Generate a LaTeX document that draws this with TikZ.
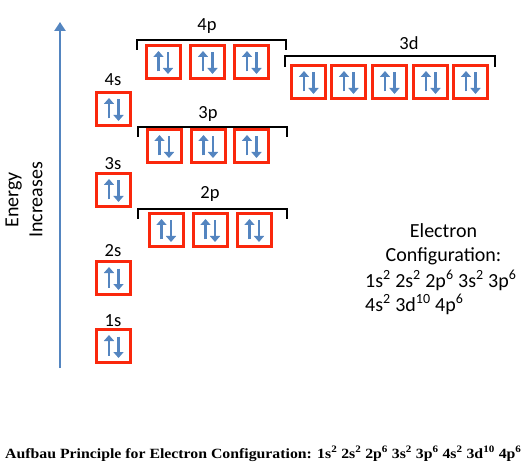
\documentclass[tikz,border=0pt]{standalone}
\usepackage{fontspec}
\setmainfont{Carlito}
\newfontfamily\capfont{Liberation Serif}[FakeStretch=1.12]
\usetikzlibrary{arrows.meta}
\definecolor{boxred}{RGB}{250,40,12}
\definecolor{spinblue}{RGB}{84,133,192}
\tikzset{
  orb/.style={draw=boxred, line width=3bp, minimum width=34bp, minimum height=33bp, inner sep=0pt},
  spin/.style={draw=spinblue, line width=2.8bp, -{Triangle[length=6bp,width=10bp]}},
  brk/.style={draw=black, line width=1.5bp},
  lbl/.style={anchor=base, font=\fontsize{18.5bp}{22bp}\selectfont, inner sep=0pt},
  cfg/.style={anchor=base, font=\fontsize{20bp}{24bp}\selectfont, inner sep=0pt},
  axis/.style={draw=spinblue, line width=2.5bp, -{Triangle[length=9bp,width=11bp]}}
}
\newcommand\orbital[3]{%
  \node[orb] (#1) at (#2,#3) {};
  \draw[spin] ([xshift=-4.5bp,yshift=-9.5bp]#1.center) -- ([xshift=-4.5bp,yshift=11bp]#1.center);
  \draw[spin] ([xshift=5bp,yshift=9.5bp]#1.center) -- ([xshift=5bp,yshift=-12bp]#1.center);
}
\newcommand\sps[1]{\textsuperscript{#1}}
\begin{document}
\begin{tikzpicture}[x=1bp,y=-1bp]
\useasboundingbox[fill=white] (0,0) rectangle (527,469);
% energy axis
\coordinate (axbot) at (60,368);
\coordinate (axtop) at (60,22);
\draw[axis] (axbot) -- (axtop);
\node[rotate=90, align=center, font=\fontsize{20bp}{24bp}\selectfont, inner sep=0pt] (energy) at (24,200) {Energy\\Increases};
% s orbitals
\orbital{o1s}{113.5}{346}
\node[lbl] (l1s) at (113,326) {1s};
\orbital{o2s}{113.5}{278}
\node[lbl] (l2s) at (113,257) {2s};
\orbital{o3s}{113.5}{190}
\node[lbl] (l3s) at (113,170) {3s};
\orbital{o4s}{113.5}{109}
\node[lbl] (l4s) at (113,86) {4s};
% 2p
\orbital{o2pa}{166}{230}
\orbital{o2pb}{210}{230}
\orbital{o2pc}{254}{230}
\draw[brk] (138,219) -- (138,209) -- (287,209) -- (287,219);
\node[lbl] (l2p) at (210,199) {2p};
% 3p
\orbital{o3pa}{164}{146}
\orbital{o3pb}{208}{146}
\orbital{o3pc}{251.5}{146}
\draw[brk] (138,137) -- (138,127) -- (287,127) -- (287,137);
\node[lbl] (l3p) at (208,119) {3p};
% 4p
\orbital{o4pa}{163}{62}
\orbital{o4pb}{207.5}{62}
\orbital{o4pc}{251.5}{62}
\draw[brk] (137,50) -- (137,40) -- (286,40) -- (286,50);
\node[lbl] (l4p) at (207,31) {4p};
% 3d
\orbital{o3da}{308.5}{82}
\orbital{o3db}{348.5}{82}
\orbital{o3dc}{389.5}{82}
\orbital{o3dd}{430.5}{82}
\orbital{o3de}{470.5}{82}
\draw[brk] (285,67) -- (285,56) -- (495,56) -- (495,67);
\node[lbl] (l3d) at (409,50) {3d};
% configuration text
\node[cfg] (c1) at (443.5,238) {Electron};
\node[cfg] (c2) at (443.5,262) {Configuration:};
\node[cfg, anchor=base west] (c3) at (365,287) {1s\sps{2} 2s\sps{2} 2p\sps{6} 3s\sps{2} 3p\sps{6}};
\node[cfg, anchor=base west] (c4) at (365,311) {4s\sps{2} 3d\sps{10} 4p\sps{6}};
% caption
\node[anchor=base west, inner sep=0pt, font=\capfont\bfseries\fontsize{14.1bp}{16bp}\selectfont] (cap) at (5,458)
  {Aufbau Principle for Electron Configuration: 1s\sps{2} 2s\sps{2} 2p\sps{6} 3s\sps{2} 3p\sps{6} 4s\sps{2} 3d\sps{10} 4p\sps{6}};
\end{tikzpicture}
\end{document}
